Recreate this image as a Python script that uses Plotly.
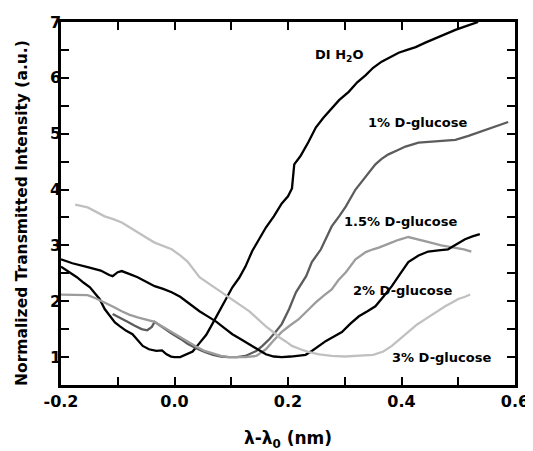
import plotly.graph_objects as go

# ---- data ----
di_x = [-0.200,-0.185,-0.172,-0.160,-0.149,-0.140,-0.132,-0.123,-0.114,-0.105,
        -0.096,-0.085,-0.074,-0.065,-0.056,-0.045,-0.032,-0.022,-0.014,-0.006,
        0.000,0.010,0.021,0.032,0.044,0.056,0.067,0.079,0.091,0.102,
        0.114,0.125,0.137,0.149,0.161,0.175,0.189,0.200,0.207,0.211,
        0.222,0.236,0.249,0.262,0.272,0.290,0.307,0.322,0.337,0.350,
        0.365,0.380,0.395,0.410,0.425,0.442,0.460,0.478,0.495,0.515,0.535]
di_y = [2.62,2.52,2.43,2.33,2.25,2.14,2.04,1.86,1.73,1.62,
        1.55,1.47,1.41,1.30,1.20,1.14,1.11,1.12,1.05,1.01,
        1.00,1.00,1.05,1.10,1.25,1.40,1.60,1.82,2.05,2.25,
        2.42,2.62,2.90,3.10,3.32,3.52,3.75,3.88,4.02,4.45,
        4.60,4.85,5.11,5.28,5.39,5.60,5.75,5.92,6.05,6.18,
        6.29,6.37,6.45,6.50,6.55,6.63,6.71,6.78,6.86,6.93,7.00]

g1_x = [-0.109,-0.095,-0.082,-0.070,-0.058,-0.048,-0.040,-0.035,-0.020,-0.005,
        0.010,0.023,0.038,0.053,0.068,0.082,0.096,0.110,0.125,0.144,
        0.155,0.167,0.178,0.189,0.202,0.214,0.232,0.242,0.258,0.277,
        0.290,0.302,0.319,0.330,0.342,0.354,0.365,0.377,0.392,0.407,
        0.430,0.453,0.475,0.495,0.518,0.540,0.565,0.588]
g1_y = [1.77,1.70,1.63,1.56,1.50,1.48,1.54,1.63,1.52,1.42,
        1.33,1.24,1.16,1.09,1.04,1.01,1.00,1.00,1.02,1.11,
        1.20,1.32,1.45,1.59,1.86,2.16,2.45,2.70,2.93,3.34,
        3.52,3.70,4.00,4.14,4.30,4.45,4.55,4.63,4.70,4.77,
        4.84,4.86,4.88,4.89,4.96,5.04,5.12,5.21]

g15_x = [-0.200,-0.175,-0.153,-0.138,-0.123,-0.108,-0.093,-0.080,-0.065,-0.050,
         -0.035,-0.020,-0.005,0.010,0.023,0.038,0.053,0.068,0.082,0.095,
         0.110,0.125,0.144,0.161,0.175,0.189,0.204,0.219,0.234,0.249,
         0.263,0.277,0.289,0.302,0.319,0.337,0.350,0.360,0.380,0.395,
         0.412,0.425,0.440,0.455,0.470,0.490,0.510,0.523]
g15_y = [2.12,2.12,2.11,2.05,1.98,1.90,1.82,1.76,1.71,1.67,
         1.63,1.54,1.45,1.36,1.27,1.19,1.11,1.06,1.02,1.00,
         1.00,1.00,1.02,1.14,1.30,1.45,1.57,1.68,1.83,1.98,
         2.10,2.21,2.38,2.52,2.75,2.88,2.93,2.96,3.04,3.10,
         3.15,3.12,3.08,3.04,3.00,2.96,2.93,2.89]

g2_x = [-0.200,-0.180,-0.153,-0.130,-0.115,-0.109,-0.100,-0.093,-0.080,-0.065,
        -0.050,-0.035,-0.020,-0.005,0.010,0.023,0.044,0.060,0.074,0.088,
        0.102,0.117,0.132,0.147,0.161,0.175,0.189,0.205,0.219,0.231,
        0.242,0.254,0.267,0.281,0.295,0.310,0.325,0.340,0.354,0.368,
        0.383,0.397,0.412,0.430,0.447,0.465,0.482,0.497,0.512,0.525,0.538]
g2_y = [2.75,2.68,2.61,2.55,2.47,2.45,2.52,2.54,2.49,2.43,
        2.35,2.27,2.22,2.16,2.08,1.98,1.82,1.72,1.63,1.52,
        1.41,1.32,1.23,1.13,1.05,1.01,1.00,1.01,1.02,1.04,
        1.11,1.20,1.29,1.37,1.45,1.60,1.73,1.82,1.91,2.08,
        2.27,2.48,2.70,2.82,2.89,2.91,2.93,3.02,3.11,3.16,3.20]

g3_x = [-0.175,-0.153,-0.138,-0.123,-0.108,-0.093,-0.080,-0.065,-0.050,-0.035,
        -0.020,-0.005,0.010,0.023,0.044,0.060,0.075,0.096,0.114,0.132,
        0.147,0.161,0.175,0.184,0.196,0.207,0.222,0.237,0.255,0.277,
        0.300,0.325,0.350,0.368,0.383,0.397,0.412,0.427,0.442,0.460,
        0.477,0.490,0.500,0.512,0.521]
g3_y = [3.73,3.68,3.60,3.52,3.47,3.41,3.33,3.23,3.14,3.05,
        2.99,2.93,2.82,2.71,2.43,2.32,2.22,2.07,1.95,1.82,
        1.68,1.55,1.44,1.36,1.28,1.20,1.14,1.09,1.05,1.02,
        1.01,1.02,1.04,1.10,1.20,1.32,1.45,1.58,1.68,1.80,
        1.91,1.98,2.04,2.08,2.12]

series_names = ["DI H<sub>2</sub>O", "1% D-glucose", "1.5% D-glucose", "2% D-glucose", "3% D-glucose"]
label_x = [0.289, 0.428, 0.399, 0.402, 0.470]
label_y = [6.40, 5.20, 3.43, 2.20, 1.00]

x_tickvals = [-0.2, 0.0, 0.2, 0.4, 0.6]
y_tickvals = [1, 2, 3, 4, 5, 6, 7]
x_title = "λ-λ<sub>0</sub> (nm)"
y_title = "Normalized Transmitted Intensity (a.u.)"

FONT = "DejaVu Sans"
colors = ["#000000", "#5c5c5c", "#9c9c9c", "#000000", "#c0c0c0"]
all_x = [di_x, g1_x, g15_x, g2_x, g3_x]
all_y = [di_y, g1_y, g15_y, g2_y, g3_y]

fig = go.Figure()
for xs, ys, c, n in zip(all_x, all_y, colors, series_names):
    fig.add_trace(go.Scatter(x=xs, y=ys, mode="lines", name=n,
                             line=dict(color=c, width=2.3), showlegend=False))

for t, lx, ly in zip(series_names, label_x, label_y):
    fig.add_annotation(x=lx, y=ly, xref="x", yref="y", text="<b>" + t + "</b>",
                       showarrow=False, font=dict(family=FONT, size=13, color="black"))

# y-axis title placed as a rotated paper annotation
fig.add_annotation(x=-0.086, y=0.474, xref="paper", yref="paper", xanchor="center", yanchor="middle",
                   text="<b>" + y_title + "</b>", textangle=-90, showarrow=False,
                   font=dict(family=FONT, size=15.5, color="black"))

axis_common = dict(showline=True, linewidth=2.5, linecolor="black", mirror="ticks",
                   ticks="inside", ticklen=8, tickwidth=2, tickcolor="black",
                   showgrid=False, zeroline=False, ticklabeloverflow="allow",
                   tickfont=dict(family=FONT, size=16, color="black"))

fig.update_xaxes(range=[-0.2, 0.6], tickvals=x_tickvals,
                 ticktext=["<b>%.1f</b>" % v for v in x_tickvals],
                 minor=dict(dtick=0.1, tick0=0, ticks="inside", ticklen=8, tickwidth=2, tickcolor="black"),
                 title=dict(text="<b>" + x_title + "</b>", font=dict(family=FONT, size=17, color="black"),
                            standoff=27),
                 **axis_common)
fig.update_yaxes(range=[0.5, 7], tickvals=y_tickvals,
                 ticktext=["<b>%d</b>" % v for v in y_tickvals],
                 minor=dict(dtick=0.5, tick0=0, ticks="inside", ticklen=8, tickwidth=2, tickcolor="black"),
                 ticklabelstandoff=-6,
                 **axis_common)

# page body adds an 8px margin, so the figure is 8px smaller and offset accordingly
fig.update_layout(width=525, height=443, margin=dict(l=53, r=18, t=14, b=66, autoexpand=False),
                  plot_bgcolor="white", paper_bgcolor="white",
                  font=dict(family=FONT, color="black"))

fig.write_html("out.html")
